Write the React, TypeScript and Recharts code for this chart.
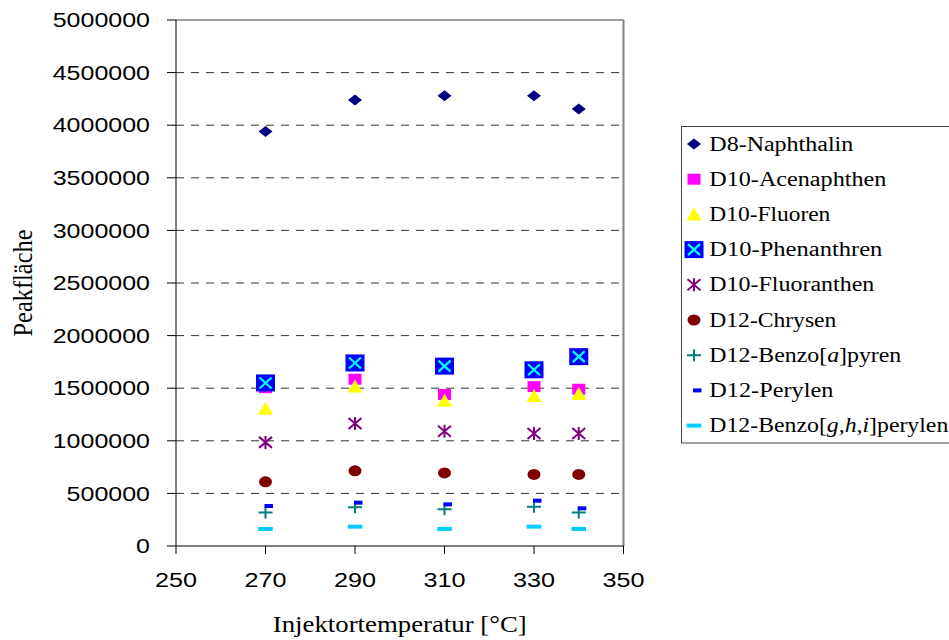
import React from 'react';
import { ScatterChart, Scatter, XAxis, YAxis, ReferenceLine, Legend } from 'recharts';

// Injector temperatures (°C) at which each deuterated standard was measured
const temperatures = [270, 290, 310, 330, 340];

// Peak areas per internal standard
const naphthalin = [3940000, 4240000, 4280000, 4280000, 4155000];
const acenaphthen = [1505000, 1585000, 1440000, 1515000, 1490000];
const fluoren = [1305000, 1515000, 1380000, 1425000, 1445000];
const phenanthren = [1550000, 1740000, 1710000, 1675000, 1800000];
const fluoranthen = [985000, 1165000, 1090000, 1070000, 1070000];
const chrysen = [610000, 715000, 695000, 680000, 680000];
const benzoAPyren = [318000, 368000, 350000, 374000, 318000];
const perylen = [380000, 412000, 396000, 431000, 358000];
const benzoGhiPerylen = [162000, 184000, 162000, 184000, 162000];

const xTicks = [250, 270, 290, 310, 330, 350];
const yTicks = [0, 500000, 1000000, 1500000, 2000000, 2500000, 3000000, 3500000, 4000000, 4500000, 5000000];
const gridValues = yTicks.slice(1, -1);

type MarkerKind =
  | 'diamond'
  | 'square'
  | 'triangle'
  | 'boxX'
  | 'star'
  | 'circle'
  | 'plus'
  | 'dashOffset'
  | 'dashWide';

// Legend label pieces: [text, italic]
type Part = [string, boolean];

interface SeriesDef {
  key: string;
  name: string;
  parts: Part[];
  values: number[];
  marker: MarkerKind;
  labelWidth: number;
}

const series: SeriesDef[] = [
  { key: 'naph', name: 'D8-Naphthalin', parts: [['D8-Naphthalin', false]], values: naphthalin, marker: 'diamond', labelWidth: 144 },
  { key: 'acen', name: 'D10-Acenaphthen', parts: [['D10-Acenaphthen', false]], values: acenaphthen, marker: 'square', labelWidth: 177 },
  { key: 'fluo', name: 'D10-Fluoren', parts: [['D10-Fluoren', false]], values: fluoren, marker: 'triangle', labelWidth: 121 },
  { key: 'phen', name: 'D10-Phenanthren', parts: [['D10-Phenanthren', false]], values: phenanthren, marker: 'boxX', labelWidth: 173 },
  { key: 'flan', name: 'D10-Fluoranthen', parts: [['D10-Fluoranthen', false]], values: fluoranthen, marker: 'star', labelWidth: 165 },
  { key: 'chry', name: 'D12-Chrysen', parts: [['D12-Chrysen', false]], values: chrysen, marker: 'circle', labelWidth: 127 },
  {
    key: 'bap',
    name: 'D12-Benzo[a]pyren',
    parts: [['D12-Benzo[', false], ['a', true], [']pyren', false]],
    values: benzoAPyren,
    marker: 'plus',
    labelWidth: 192,
  },
  { key: 'pery', name: 'D12-Perylen', parts: [['D12-Perylen', false]], values: perylen, marker: 'dashOffset', labelWidth: 124 },
  {
    key: 'bghi',
    name: 'D12-Benzo[g,h,i]perylen',
    parts: [['D12-Benzo[', false], ['g,h,i', true], [']perylen', false]],
    values: benzoGhiPerylen,
    marker: 'dashWide',
    labelWidth: 239,
  },
];

const SANS = "'Liberation Sans', Arial, sans-serif";
const SERIF = "'Liberation Serif', 'Times New Roman', serif";

function Marker({ kind, cx, cy }: { kind: MarkerKind; cx: number; cy: number }) {
  switch (kind) {
    case 'diamond':
      return <polygon points={`${cx},${cy - 5.5} ${cx + 7},${cy} ${cx},${cy + 5.5} ${cx - 7},${cy}`} fill="#000080" />;
    case 'square':
      return <rect x={cx - 6.5} y={cy - 5.5} width={13} height={11} fill="#FF00FF" />;
    case 'triangle':
      return <polygon points={`${cx},${cy - 7} ${cx + 7.5},${cy + 6} ${cx - 7.5},${cy + 6}`} fill="#FFFF00" />;
    case 'boxX':
      return (
        <g>
          <rect x={cx - 9.5} y={cy - 8.5} width={19} height={17} fill="#0000FF" />
          <path
            d={`M${cx - 6},${cy - 5.5}L${cx + 6},${cy + 5.5}M${cx + 6},${cy - 5.5}L${cx - 6},${cy + 5.5}`}
            stroke="#00FFFF"
            strokeWidth={2.2}
          />
        </g>
      );
    case 'star':
      return (
        <path
          d={`M${cx - 6.5},${cy - 5.5}L${cx + 6.5},${cy + 5.5}M${cx + 6.5},${cy - 5.5}L${cx - 6.5},${cy + 5.5}M${cx},${cy - 6.5}L${cx},${cy + 6.5}`}
          stroke="#800080"
          strokeWidth={2}
        />
      );
    case 'circle':
      return <ellipse cx={cx} cy={cy} rx={6.5} ry={5.5} fill="#800000" />;
    case 'plus':
      return <path d={`M${cx - 7},${cy}L${cx + 7},${cy}M${cx},${cy - 6}L${cx},${cy + 6}`} stroke="#008080" strokeWidth={2} />;
    case 'dashOffset':
      return <rect x={cx - 1} y={cy - 2} width={8.5} height={4} fill="#0000FF" />;
    case 'dashWide':
      return <rect x={cx - 7.25} y={cy - 2} width={14.5} height={4} fill="#00CCFF" />;
    default:
      return null;
  }
}

const YTick = (props: any) => {
  const { x, y, payload } = props;
  const s = String(payload.value);
  return (
    <text
      x={x}
      y={y + 7.2}
      textAnchor="end"
      fontFamily={SANS}
      fontSize={20}
      fill="#000"
      textLength={13.9 * s.length}
      lengthAdjust="spacingAndGlyphs"
    >
      {s}
    </text>
  );
};

const XTick = (props: any) => {
  const { x, y, payload } = props;
  const s = String(payload.value);
  return (
    <text
      x={x}
      y={y + 15.3}
      textAnchor="middle"
      fontFamily={SANS}
      fontSize={20}
      fill="#000"
      textLength={14 * s.length}
      lengthAdjust="spacingAndGlyphs"
    >
      {s}
    </text>
  );
};

const XTitle = (props: any) => {
  const vb = props.viewBox || { x: 176, y: 546, width: 447.5, height: 60 };
  return (
    <text
      x={vb.x + vb.width / 2}
      y={vb.y + 86.3}
      textAnchor="middle"
      fontFamily={SERIF}
      fontSize={23}
      fill="#000"
      textLength={254}
      lengthAdjust="spacingAndGlyphs"
    >
      Injektortemperatur [°C]
    </text>
  );
};

const YTitle = (props: any) => {
  const vb = props.viewBox || { x: 26, y: 20, width: 150, height: 526 };
  return (
    <g transform={`translate(${vb.x + 6},${vb.y + vb.height / 2}) scale(1.2,1) rotate(-90)`}>
      <text
        x={0}
        y={0}
        textAnchor="middle"
        fontFamily={SERIF}
        fontSize={23}
        fill="#000"
        textLength={107}
        lengthAdjust="spacingAndGlyphs"
      >
        Peakfläche
      </text>
    </g>
  );
};

const LegendBox = () => (
  <svg width={269} height={320} style={{ display: 'block' }}>
    <rect x={1.5} y={1.5} width={320} height={316.5} fill="#fff" stroke="#444" strokeWidth={1} />
    {series.map((s, i) => {
      const cy = 19 + i * 35.2;
      return (
        <g key={s.key}>
          <Marker kind={s.marker} cx={14} cy={cy} />
          <text
            x={29.3}
            y={cy + 6.6}
            fontFamily={SERIF}
            fontSize={20}
            fill="#000"
            textLength={s.labelWidth}
            lengthAdjust="spacingAndGlyphs"
          >
            {s.parts.map(([t, it], j) => (
              <tspan key={j} fontStyle={it ? 'italic' : 'normal'}>
                {t}
              </tspan>
            ))}
          </text>
        </g>
      );
    })}
  </svg>
);

export default function App() {
  return (
    <div style={{ position: 'absolute', left: 0, top: 0, width: 949, height: 640, background: '#fff' }}>
      <ScatterChart width={949} height={640} margin={{ top: 20, right: 325.5, bottom: 34, left: 26 }}>
        <XAxis
          type="number"
          dataKey="t"
          domain={[250, 350]}
          ticks={xTicks}
          interval={0}
          allowDataOverflow
          height={60}
          axisLine={{ stroke: '#000', strokeWidth: 1 }}
          tickLine={{ stroke: '#000', strokeWidth: 1 }}
          tickSize={8}
          tickMargin={18}
          tick={<XTick />}
          label={<XTitle />}
        />
        <YAxis
          type="number"
          dataKey="v"
          domain={[0, 5000000]}
          ticks={yTicks}
          interval={0}
          allowDataOverflow
          width={150}
          axisLine={{ stroke: '#000', strokeWidth: 1 }}
          tickLine={{ stroke: '#000', strokeWidth: 1 }}
          tickSize={9}
          tickMargin={17}
          tick={<YTick />}
          label={<YTitle />}
        />
        {gridValues.map((v) => (
          <ReferenceLine key={v} y={v} stroke="#333" strokeWidth={1} strokeDasharray="8 7" />
        ))}
        <ReferenceLine y={5000000} stroke="#808080" strokeWidth={1.5} />
        <ReferenceLine x={350} stroke="#808080" strokeWidth={2} />
        {series.map((s) => (
          <Scatter
            key={s.key}
            name={s.name}
            data={temperatures.map((t, i) => ({ t, v: s.values[i] }))}
            isAnimationActive={false}
            shape={(p: any) => <Marker kind={s.marker} cx={p.cx} cy={p.cy} />}
          />
        ))}
        <Legend
          layout="horizontal"
          align="center"
          verticalAlign="middle"
          wrapperStyle={{ left: 680, top: 125, width: 269, height: 320 }}
          content={() => <LegendBox />}
        />
      </ScatterChart>
    </div>
  );
}
